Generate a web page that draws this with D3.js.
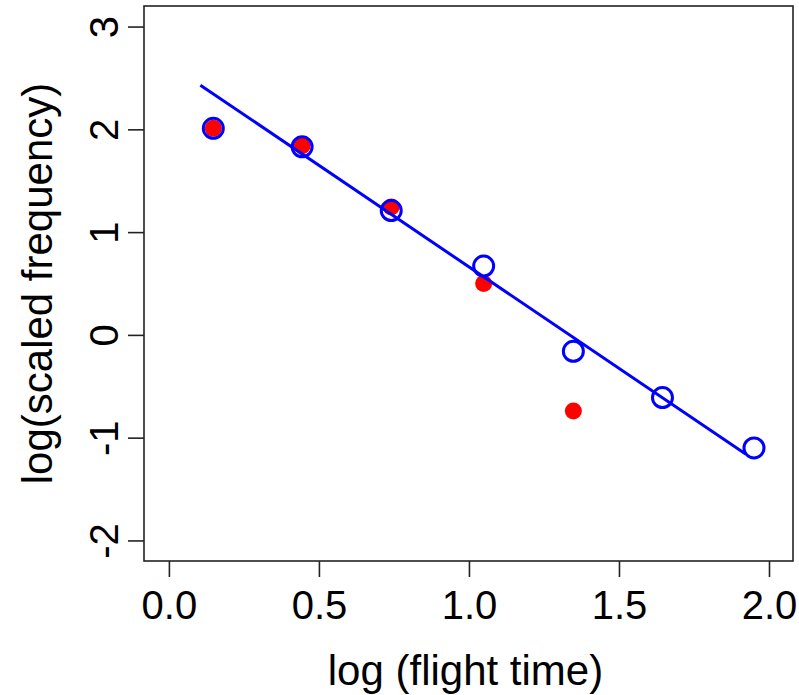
<!DOCTYPE html>
<html>
<head>
<meta charset="utf-8">
<script src="https://cdn.jsdelivr.net/npm/d3@7"></script>
<style>
  body { margin: 0; background: #fff; }
  text { font-family: "Liberation Sans", Arial, sans-serif; fill: #000; }
</style>
</head>
<body>
<svg width="799" height="695"></svg>
<script>
const width = 799;
const height = 695;

// log (flight time) bins
const logTime = [0.148, 0.444, 0.741, 1.049, 1.348, 1.645, 1.950];
// open blue circles
const blueFreq = [2.01, 1.83, 1.21, 0.67, -0.16, -0.61, -1.10];
// filled red points (only first five bins)
const redFreq = [2.01, 1.84, 1.245, 0.50, -0.74];
// fitted line end points
const fitX = [0.105, 1.922];
const fitY = [2.43, -1.16];

const xTicks = [0, 0.5, 1, 1.5, 2];
const yTicks = [-2, -1, 0, 1, 2, 3];

const box = { left: 144, right: 793, top: 6, bottom: 561 };

const x = d3.scaleLinear().domain([-0.083, 2.08]).range([box.left, box.right]);
const y = d3.scaleLinear().domain([-2.2, 3.2]).range([box.bottom, box.top]);

const svg = d3.select("svg");

// plot frame
svg.append("rect")
    .attr("x", box.left)
    .attr("y", box.top)
    .attr("width", box.right - box.left)
    .attr("height", box.bottom - box.top)
    .attr("fill", "none")
    .attr("stroke", "#222")
    .attr("stroke-width", 1.6);

// x axis
const xAxis = svg.append("g")
    .attr("transform", `translate(0,${box.bottom})`)
    .call(d3.axisBottom(x).tickValues(xTicks).tickFormat(d3.format(".1f")).tickSize(16).tickPadding(14));
xAxis.select(".domain").remove();
xAxis.selectAll("line").attr("stroke", "#222").attr("stroke-width", 1.6);
xAxis.selectAll("text").attr("font-size", 40).attr("font-family", "Liberation Sans, Arial, sans-serif");

// y axis, labels rotated like base R (plain hyphen minus)
const yAxis = svg.append("g")
    .attr("transform", `translate(${box.left},0)`)
    .call(d3.axisLeft(y).tickValues(yTicks).tickFormat(d => String(d)).tickSize(16));
yAxis.select(".domain").remove();
yAxis.selectAll("line").attr("stroke", "#222").attr("stroke-width", 1.6);
yAxis.selectAll("text")
    .attr("x", null).attr("dy", null)
    .attr("text-anchor", "middle")
    .attr("font-size", 40)
    .attr("font-family", "Liberation Sans, Arial, sans-serif")
    .attr("transform", "translate(-26,0) rotate(-90)");

// axis titles
svg.append("text")
    .attr("x", (box.left + box.right) / 2 - 3)
    .attr("y", 685)
    .attr("text-anchor", "middle")
    .attr("font-size", 42)
    .text("log (flight time)");

svg.append("text")
    .attr("transform", `translate(52,${(box.top + box.bottom) / 2}) rotate(-90)`)
    .attr("text-anchor", "middle")
    .attr("font-size", 42)
    .text("log(scaled frequency)");

// red filled points
svg.append("g")
  .selectAll("circle")
  .data(redFreq)
  .join("circle")
    .attr("cx", (d, i) => x(logTime[i]))
    .attr("cy", d => y(d))
    .attr("r", 8.5)
    .attr("fill", "#ff0000");

// blue open circles
svg.append("g")
  .selectAll("circle")
  .data(blueFreq)
  .join("circle")
    .attr("cx", (d, i) => x(logTime[i]))
    .attr("cy", d => y(d))
    .attr("r", 10)
    .attr("fill", "none")
    .attr("stroke", "#0000ff")
    .attr("stroke-width", 3);

// fitted line
svg.append("line")
    .attr("x1", x(fitX[0]))
    .attr("y1", y(fitY[0]))
    .attr("x2", x(fitX[1]))
    .attr("y2", y(fitY[1]))
    .attr("stroke", "#0000ff")
    .attr("stroke-width", 3);
</script>
</body>
</html>
